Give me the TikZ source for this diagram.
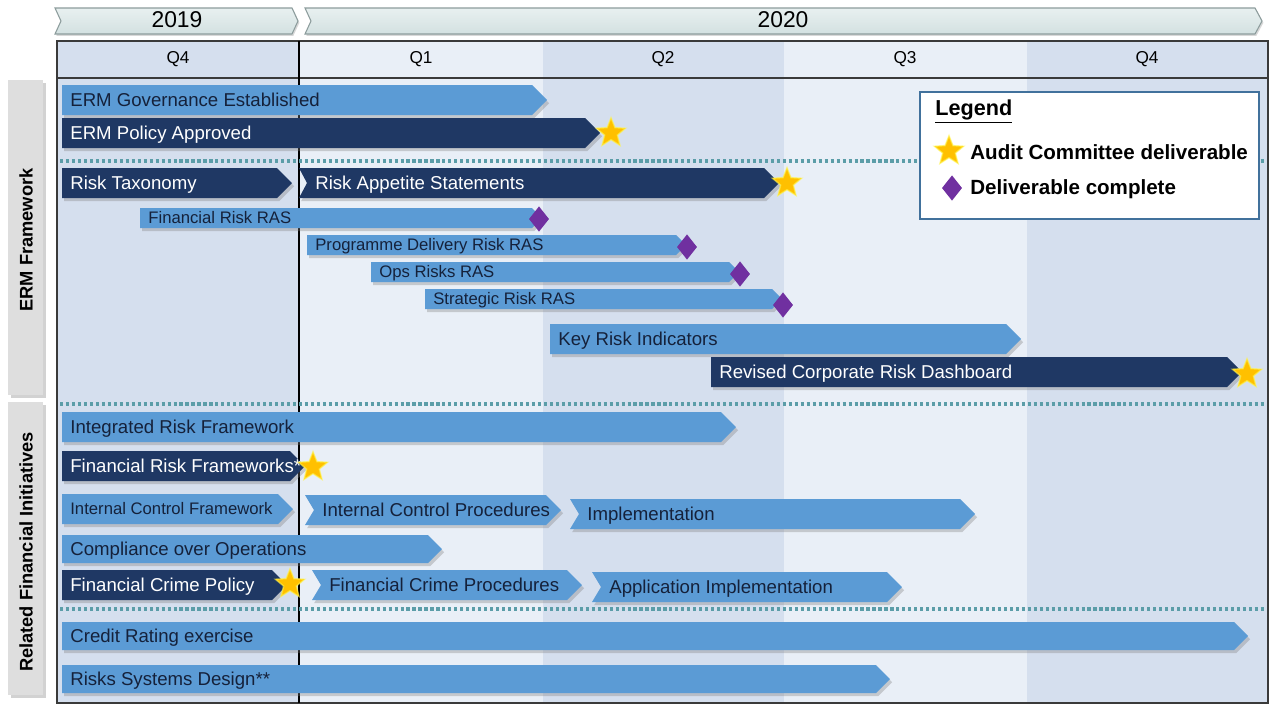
\documentclass[tikz,border=0pt]{standalone}
\usepackage{fontspec}
\setmainfont{Liberation Sans}
\usetikzlibrary{shapes.geometric,shadows}
\definecolor{lbar}{HTML}{5B9BD5}
\definecolor{dbar}{HTML}{1F3864}
\definecolor{ltxt}{HTML}{15213A}
\definecolor{colA}{HTML}{D5DFEE}
\definecolor{colB}{HTML}{E9EFF7}
\definecolor{yeartop}{HTML}{E8F0F0}
\definecolor{yearbot}{HTML}{D3E1E1}
\definecolor{yearline}{HTML}{8C9C9C}
\definecolor{dotc}{HTML}{5B9DA8}
\definecolor{gold}{HTML}{FFC000}
\definecolor{purp}{HTML}{7030A0}
\definecolor{legline}{HTML}{41719C}
\definecolor{framec}{HTML}{3A3A3A}
\definecolor{lblbox}{HTML}{DEDEDE}

\tikzset{
  bshadow/.style={drop shadow={shadow xshift=1.2pt,shadow yshift=-1.8pt,opacity=.35}},
  bar/L/.style={fill=lbar,bshadow},
  bar/S/.style={fill=lbar,bshadow},
  bar/M/.style={fill=lbar,bshadow},
  bar/D/.style={fill=dbar,bshadow},
  txtbase/.style={anchor=west,inner sep=0pt,text depth=0pt},
  txt/L/.style={txtbase,text=ltxt,font=\fontsize{10.6}{12}\selectfont,text height=7.6pt},
  txt/M/.style={txtbase,text=ltxt,font=\fontsize{9.5}{11}\selectfont,text height=6.8pt},
  txt/S/.style={txtbase,text=ltxt,font=\fontsize{9.5}{11}\selectfont,text height=6.8pt},
  txt/D/.style={txtbase,text=white,font=\fontsize{10.6}{12}\selectfont,text height=7.6pt},
  goldstar/.style={star,star points=5,star point ratio=2.3,fill=gold,inner sep=0pt,
    minimum size=17.5pt,draw=yellow!70!white,draw opacity=.6,line width=.8pt},
  purpdiam/.style={diamond,fill=purp,inner sep=0pt,minimum width=11.5pt,minimum height=14.5pt},
  dotline/.style={draw=dotc,line width=1.8pt,dash pattern=on 1.8pt off 1.6pt},
  yearbox/.style={top color=yeartop,bottom color=yearbot,draw=yearline,line width=.6pt,
    drop shadow={shadow xshift=.8pt,shadow yshift=-1pt,opacity=.3}},
  qtxt/.style={font=\fontsize{9.8}{11}\selectfont,text=black},
  ytxt/.style={font=\fontsize{13}{15}\selectfont,text=black},
  sidetxt/.style={rotate=90,font=\bfseries\fontsize{10.4}{12}\selectfont,text=black},
  legtxt/.style={anchor=west,inner sep=0pt,font=\bfseries\fontsize{11.7}{13}\selectfont,text=black},
}

\newcommand\gbar[8]{%
  \path[bar/#2] (#3,{#5-#6}) -- ({#4-#6},{#5-#6}) -- (#4,#5) -- ({#4-#6},{#5+#6})
     -- (#3,{#5+#6}) -- ({#3+#7},#5) -- cycle;
  \node[txt/#2] (#1) at ({#3+#7+8},#5) {#8};
}

\begin{document}
\begin{tikzpicture}[x=0.02cm,y=-0.02cm]
\useasboundingbox (0,0) rectangle (1277,704);
\fill[white] (0,0) rectangle (1277,704);

% quarter columns (including header)
\fill[colA] (57,41) rectangle (299,703);
\fill[colB] (299,41) rectangle (543,703);
\fill[colA] (543,41) rectangle (784,703);
\fill[colB] (784,41) rectangle (1027,703);
\fill[colA] (1027,41) rectangle (1268,703);

% header lines and frame
\draw[framec,line width=1.2pt] (57,41) rectangle (1268,703);
\draw[framec,line width=1.2pt] (57,78) -- (1268,78);
\draw[black,line width=1pt] (299,41) -- (299,703);

\node[qtxt] (q4a) at (178,59) {Q4};
\node[qtxt] (q1) at (421,59) {Q1};
\node[qtxt] (q2) at (663,59) {Q2};
\node[qtxt] (q3) at (905,59) {Q3};
\node[qtxt] (q4b) at (1147,59) {Q4};

% year chevrons
\path[yearbox] (55,8) -- (292,8) -- (298,21) -- (292,34) -- (55,34) -- (61,21) -- cycle;
\path[yearbox] (305,8) -- (1255,8) -- (1262,21) -- (1255,34) -- (305,34) -- (311,21) -- cycle;
\node[ytxt] (y2019) at (177,20) {2019};
\node[ytxt] (y2020) at (783,20) {2020};

% side labels
\fill[lblbox,drop shadow={shadow xshift=1.5pt,shadow yshift=-1.5pt,opacity=.35}] (8,80) rectangle (43,395);
\fill[lblbox,drop shadow={shadow xshift=1.5pt,shadow yshift=-1.5pt,opacity=.35}] (8,402) rectangle (43,695);
\node[sidetxt] (erm) at (26,240) {ERM Framework};
\node[sidetxt] (rfi) at (26,552) {Related Financial Initiatives};

% dotted separators
\draw[dotline] (60,161) -- (1265,161);
\draw[dotline] (60,404) -- (1265,404);
\draw[dotline] (60,609) -- (1265,609);

% bars
\gbar{g1}{L}{62}{547}{100}{15}{0}{ERM Governance Established}
\gbar{g2}{D}{62}{600}{133}{15}{0}{ERM Policy Approved}
\gbar{g3}{D}{62}{292}{183}{15}{0}{Risk Taxonomy}
\gbar{g4}{D}{299}{779}{183}{15}{8}{Risk Appetite Statements}
\gbar{g5}{S}{140}{542}{218}{10}{0}{Financial Risk RAS}
\gbar{g6}{S}{307}{686}{245}{10}{0}{Programme Delivery Risk RAS}
\gbar{g7}{S}{371}{739}{272}{10}{0}{Ops Risks RAS}
\gbar{g8}{S}{425}{782}{299}{10}{0}{Strategic Risk RAS}
\gbar{g9}{L}{550}{1021}{339}{15}{0}{Key Risk Indicators}
\gbar{g10}{D}{711}{1242}{372}{15}{0}{Revised Corporate Risk Dashboard}
\gbar{g11}{L}{62}{736}{427}{15}{0}{Integrated Risk Framework}
\gbar{g12}{D}{62}{305}{466}{15}{0}{Financial Risk Frameworks*}
\gbar{g13}{M}{62}{293}{509}{15}{0}{Internal Control Framework}
\gbar{g14}{L}{305}{561}{510}{15}{9}{Internal Control Procedures}
\gbar{g15}{L}{570}{975}{514}{15}{9}{Implementation}
\gbar{g16}{L}{62}{442}{549}{14}{0}{Compliance over Operations}
\gbar{g17}{D}{62}{287}{585}{15}{0}{Financial Crime Policy}
\gbar{g18}{L}{312}{582}{585}{15}{9}{Financial Crime Procedures}
\gbar{g19}{L}{592}{902}{587}{15}{9}{Application Implementation}
\gbar{g20}{L}{62}{1248}{636}{14}{0}{Credit Rating exercise}
\gbar{g21}{L}{62}{890}{679}{14}{0}{Risks Systems Design**}

% stars
\node[goldstar] (s1) at (611,133) {};
\node[goldstar] (s2) at (787,183) {};
\node[goldstar] (s3) at (1247,374) {};
\node[goldstar] (s4) at (313,467) {};
\node[goldstar] (s5) at (290,584) {};

% diamonds
\node[purpdiam] (d1) at (539,219) {};
\node[purpdiam] (d2) at (687,247) {};
\node[purpdiam] (d3) at (740,274) {};
\node[purpdiam] (d4) at (783,305) {};

% legend
\draw[legline,line width=1.5pt,fill=white] (920,92) rectangle (1259,219);
\node[anchor=west,inner sep=0pt,font=\bfseries\fontsize{12.3}{14}\selectfont] (leg) at (935,112) {\underline{Legend}};
\node[goldstar] (ls) at (949,151) {};
\node[legtxt] (lt1) at (970,152) {Audit Committee deliverable};
\node[purpdiam] (ld) at (952,188) {};
\node[legtxt] (lt2) at (970,189) {Deliverable complete};
\end{tikzpicture}
\end{document}
